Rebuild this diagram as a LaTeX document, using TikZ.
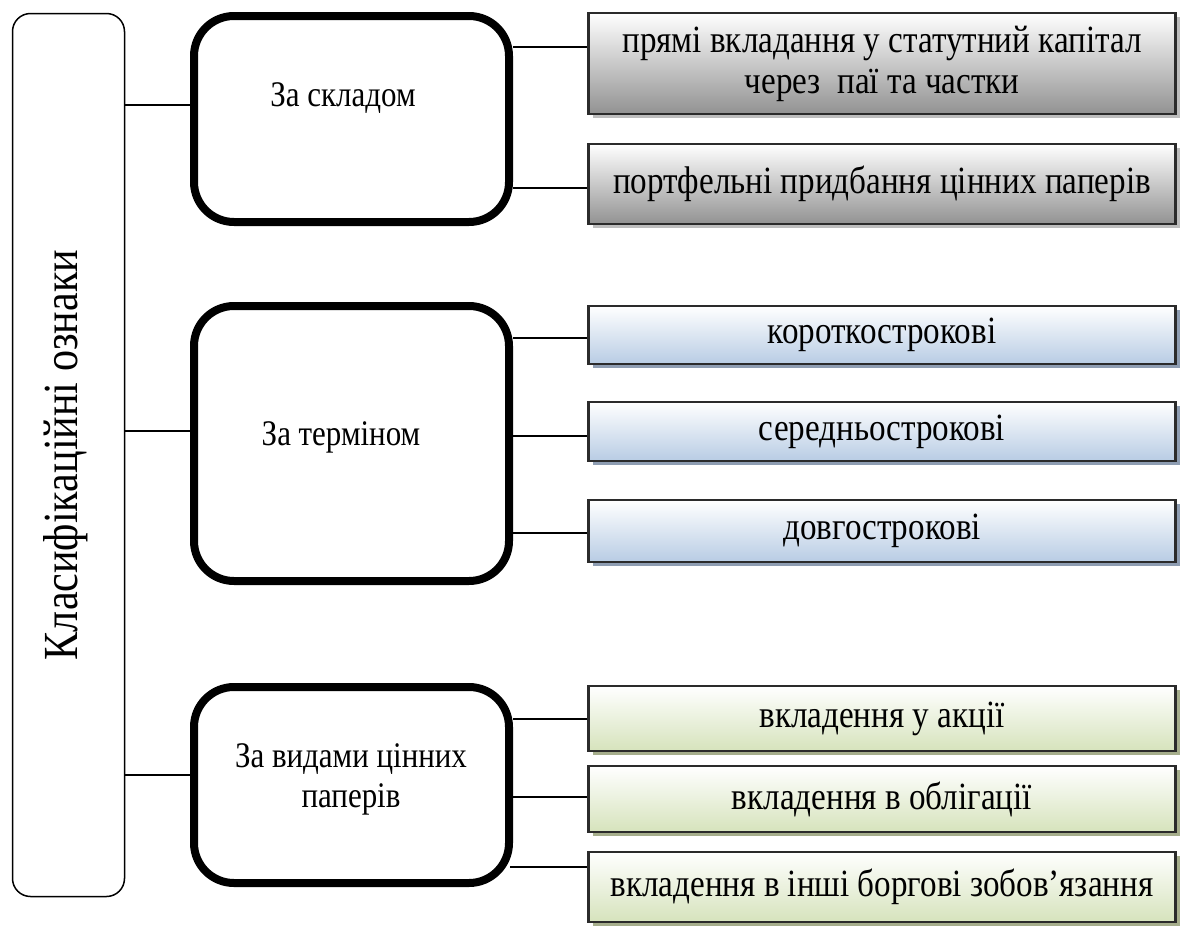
\documentclass[tikz,border=0pt]{standalone}
\usepackage{fontspec}
\setmainfont{Liberation Serif}[FakeStretch=0.86]
\usetikzlibrary{shadows}
\definecolor{greybot}{HTML}{929292}
\definecolor{greysh}{HTML}{BDBDBD}
\definecolor{bluebot}{HTML}{B8CCE4}
\definecolor{bluesh}{HTML}{8E9DB2}
\definecolor{greenbot}{HTML}{D6E3BC}
\definecolor{greensh}{HTML}{A6AE8C}
\definecolor{edge}{HTML}{2B2B2B}
\begin{document}
\begin{tikzpicture}[x=1pt,y=-1pt,
  outerbox/.style={draw, line width=1.5pt, rounded corners=18pt, inner sep=0pt},
  midbox/.style={draw, line width=8pt, rounded corners=40pt, inner sep=0pt, minimum width=315pt},
  midtext/.style={align=center, font=\fontsize{36}{40}\selectfont},
  leafbox/.style={draw=edge, line width=2.5pt, minimum width=587pt, inner sep=0pt, align=center, font=\fontsize{38.5}{41}\selectfont},
  greybox/.style={leafbox, top color=white, bottom color=greybot, drop shadow={shadow xshift=4pt, shadow yshift=-4pt, fill=greysh, opacity=1}},
  bluebox/.style={leafbox, top color=white, bottom color=bluebot, drop shadow={shadow xshift=4pt, shadow yshift=-4pt, fill=bluesh, opacity=1}},
  greenbox/.style={leafbox, top color=white, bottom color=greenbot, drop shadow={shadow xshift=4pt, shadow yshift=-4pt, fill=greensh, opacity=1}},
  conn/.style={line width=1.5pt}
]
\useasboundingbox (0,0) rectangle (1186,926);

% left box
\node[outerbox, minimum width=112pt, minimum height=883pt] (L) at (68.5,455) {};
\node[rotate=90, font=\fontsize{49}{56}\selectfont] (LT) at (66,455) {Класифікаційні ознаки};

% middle boxes
\node[midbox, minimum height=206pt] (M1) at (351.5,119) {};
\node[midbox, minimum height=275pt] (M2) at (351.5,443.5) {};
\node[midbox, minimum height=196pt] (M3) at (351.5,785) {};
\node[midtext] (T1) at (343,98) {За складом};
\node[midtext] (T2) at (341,437) {За терміном};
\node[midtext] (T3) at (351,779) {За видами цінних\\паперів};

% right boxes
\node[greybox, minimum height=101pt] (G1) at (882,63.5) {прямі вкладання у статутний капітал\\через\ \ паї та частки};
\node[greybox, minimum height=80pt] (G2) at (882,184) {портфельні придбання цінних паперів};
\node[bluebox, minimum height=58pt] (B1) at (882,335) {короткострокові};
\node[bluebox, minimum height=59pt] (B2) at (882,431.5) {середньострокові};
\node[bluebox, minimum height=62pt] (B3) at (882,531) {довгострокові};
\node[greenbox, minimum height=65pt] (V1) at (882,718.5) {вкладення у акції};
\node[greenbox, minimum height=66pt] (V2) at (882,799) {вкладення в облігації};
\node[greenbox, minimum height=70pt] (V3) at (882,887) {вкладення в інші боргові зобов’язання};

% connectors left -> middle
\draw[conn] (L.east |- 0,105) -- (M1.west |- 0,105);
\draw[conn] (L.east |- 0,431) -- (M2.west |- 0,431);
\draw[conn] (L.east |- 0,775) -- (M3.west |- 0,775);

% connectors middle -> right
\draw[conn] (M1.east |- 0,47) -- (G1.west |- 0,47);
\draw[conn] (M1.east |- 0,188) -- (G2.west |- 0,188);
\draw[conn] (M2.east |- 0,338) -- (B1.west |- 0,338);
\draw[conn] (M2.east |- 0,436) -- (B2.west |- 0,436);
\draw[conn] (M2.east |- 0,533) -- (B3.west |- 0,533);
\draw[conn] (M3.east |- 0,719) -- (V1.west |- 0,719);
\draw[conn] (M3.east |- 0,797) -- (V2.west |- 0,797);
\draw[conn] ([xshift=-3pt]M3.east |- 0,867) -- (V3.west |- 0,867);
\end{tikzpicture}
\end{document}
